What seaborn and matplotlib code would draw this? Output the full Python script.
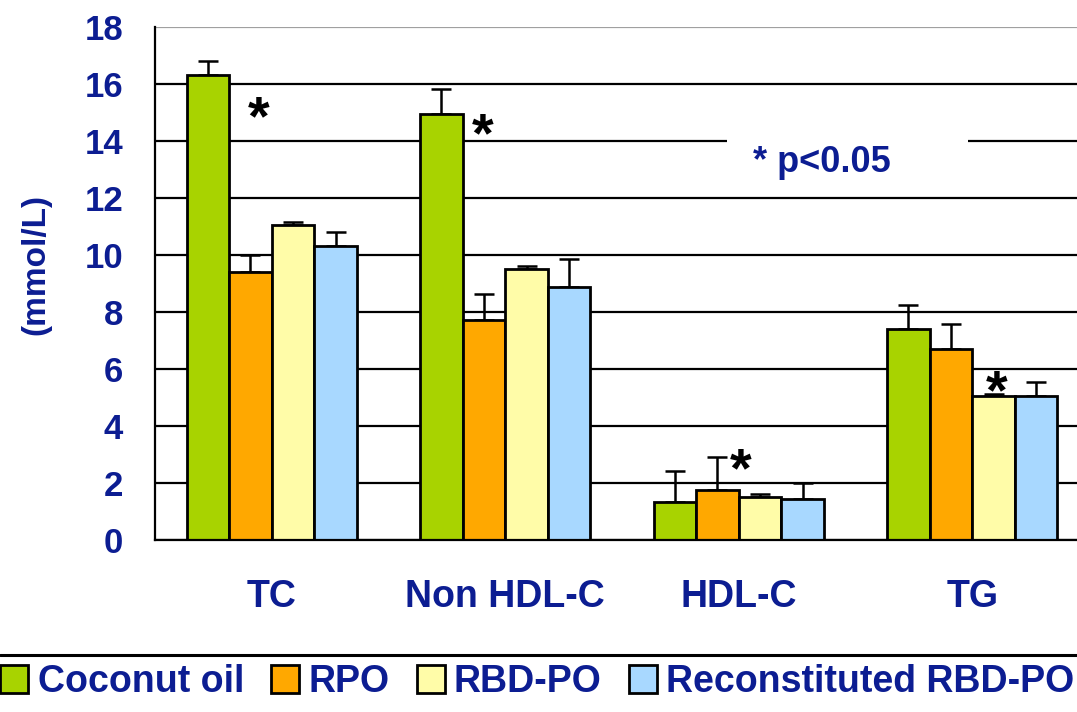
import numpy as np
import pandas as pd
import matplotlib
matplotlib.use("Agg")
import matplotlib.pyplot as plt
from matplotlib.patches import Rectangle
from matplotlib.lines import Line2D
import seaborn as sns

# Lipid measures (mmol/L), mean and upper SD for each diet group
categories = ["TC", "Non HDL-C", "HDL-C", "TG"]
groups = ["Coconut oil", "RPO", "RBD-PO", "Reconstituted RBD-PO"]
coconut_oil = [16.3, 14.94, 1.35, 7.42]
rpo = [9.42, 7.72, 1.75, 6.69]
rbd_po = [11.05, 9.51, 1.52, 5.06]
reconstituted = [10.32, 8.87, 1.44, 5.06]
coconut_oil_sd = [0.50, 0.88, 1.07, 0.81]
rpo_sd = [0.58, 0.91, 1.15, 0.90]
rbd_po_sd = [0.11, 0.10, 0.08, 0.05]
reconstituted_sd = [0.50, 0.98, 0.56, 0.50]
y_ticks = [0, 2, 4, 6, 8, 10, 12, 14, 16, 18]

# Significance markers: (x in category units, y in mmol/L)
star_x = [-0.055, 0.905, 2.01, 3.106]
star_y = [14.74, 14.14, 2.38, 5.12]

palette = ["#A8D300", "#FFA800", "#FFFCA8", "#A8D8FF"]
text_blue = "#0C1D92"

values = [coconut_oil, rpo, rbd_po, reconstituted]
sds = [coconut_oil_sd, rpo_sd, rbd_po_sd, reconstituted_sd]
df = pd.DataFrame({
    "measure": np.repeat([categories], len(groups), axis=0).ravel(),
    "group": np.repeat(groups, len(categories)),
    "value": np.concatenate(values),
})
sd_lookup = {g: dict(zip(categories, s)) for g, s in zip(groups, sds)}

sns.set_style("white")
plt.rcParams["font.family"] = ["Liberation Sans", "DejaVu Sans"]
plt.rcParams["font.weight"] = "bold"

fig = plt.figure(figsize=(10.77, 7.12), dpi=100)
ax = fig.add_axes([155 / 1077, 172 / 712, 934 / 1077, 513 / 712])

sns.barplot(data=df, x="measure", y="value", hue="group", order=categories,
            hue_order=groups, palette=palette, width=0.73, errorbar=None,
            edgecolor="black", linewidth=2.0, saturation=1, ax=ax)

# upper error bars drawn on each bar
for cont, g in zip(ax.containers, groups):
    for bar in cont:
        xc = bar.get_x() + bar.get_width() / 2
        cat = categories[int(round(xc))]
        ax.errorbar(xc, bar.get_height(), yerr=[[0], [sd_lookup[g][cat]]],
                    fmt="none", ecolor="black", elinewidth=1.8, capsize=7,
                    capthick=1.8, zorder=0.9)

ax.set_xlim(-0.5, 3.5)
ax.set_ylim(0, 18)
ax.set_yticks(y_ticks)
ax.set_yticklabels([str(t) for t in y_ticks])
ax.set_axisbelow(True)
ax.yaxis.grid(True, color="black", linewidth=1.6)
ax.get_ygridlines()[-1].set_color("#A0A0A0")

for s in ["top", "right"]:
    ax.spines[s].set_visible(False)
for s in ["left", "bottom"]:
    ax.spines[s].set_color("black")
    ax.spines[s].set_linewidth(1.6)

ax.tick_params(axis="y", direction="inout", length=10, width=1.6,
               color="black", pad=18, labelsize=25, labelcolor=text_blue)
ax.set_xticks(range(len(categories)))
ax.set_xticklabels(categories)
ax.set_xticks(np.arange(-0.5, 3.6, 1.0), minor=True)
ax.tick_params(axis="x", which="major", length=0, pad=28, labelsize=27,
               labelcolor=text_blue)
ax.tick_params(axis="x", which="minor", direction="inout", length=12,
               width=1.6, color="black")
ax.set_xlabel("")
ax.set_ylabel("(mmol/L)", fontsize=24, color=text_blue, fontweight="bold")
ax.yaxis.set_label_coords(-0.111, 0.538)

# significance stars
for x, y in zip(star_x, star_y):
    ax.text(x, y, "*", fontsize=40, fontweight="bold", color="black",
            ha="center", va="center", zorder=4)

# p-value note over a white backing that breaks the grid
ax.add_patch(Rectangle((1.95, 12.3), 1.03, 2.0, facecolor="white",
                       edgecolor="none", zorder=0.8))
ax.text(2.357, 12.91, "* p<0.05", fontsize=26, fontweight="bold",
        color=text_blue, ha="center", va="baseline", zorder=4)

# legend along the bottom, below a separating rule
handles, labels = ax.get_legend_handles_labels()
ax.get_legend().remove()
fig.add_artist(Line2D([0, 1], [57 / 712, 57 / 712], color="black",
                      linewidth=2.2, transform=fig.transFigure))
leg = fig.legend(handles, labels, loc="center left",
                 bbox_to_anchor=(0.0, 30 / 712), ncol=4, frameon=False,
                 fontsize=27, handlelength=0.75, handleheight=0.75,
                 handletextpad=0.25, columnspacing=0.72, borderpad=0,
                 borderaxespad=0)
for t in leg.get_texts():
    t.set_color(text_blue)
    t.set_fontweight("bold")

fig.savefig("out.png", dpi=100)
